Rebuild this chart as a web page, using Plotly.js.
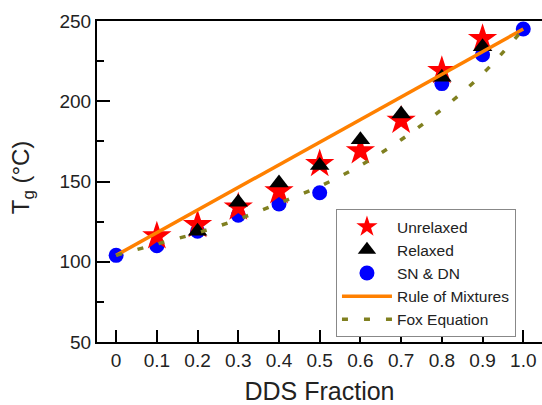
<!DOCTYPE html>
<html>
<head>
<meta charset="utf-8">
<script src="https://cdn.plot.ly/plotly-3.0.1.min.js"></script>
<style>html,body{margin:0;padding:0;background:#fff;}#chart{width:542px;height:405px;}</style>
</head>
<body>
<div id="chart"></div>
<script>
// DDS fraction positions
const ddsFraction = [0, 0.1, 0.2, 0.3, 0.4, 0.5, 0.6, 0.7, 0.8, 0.9, 1.0];
const xTickLabels = ["0", "0.1", "0.2", "0.3", "0.4", "0.5", "0.6", "0.7", "0.8", "0.9", "1.0"];
const yTickVals = [50, 100, 150, 200, 250];
const yMinorTickVals = [75, 125, 175, 225];

// Tg values (°C)
const unrelaxed = [null, 116, 123, 134, 144, 161, 169, 188, 219, 239, null];
const relaxed   = [null, null, 119, 137, 149, 160, 176, 192, 215, 234, null];
const snDn      = [104, 110, 119, 129, 136, 143, null, null, 211, 229, 245];

// Rule of mixtures (end points)
const romX = [0, 1.0];
const romY = [104, 245];

// Fox equation curve
const foxY = [104, 111, 118, 126.5, 136.5, 147, 160, 176, 195, 217, 245];

const FONT = "Liberation Sans, Arial, sans-serif";

const data = [
  {x: ddsFraction, y: snDn, name: "SN &amp; DN", type: "scatter", mode: "markers",
   marker: {symbol: "circle", size: 15, color: "#0000ff", line: {width: 0}}, legendrank: 3},
  {x: ddsFraction, y: unrelaxed, name: "Unrelaxed", type: "scatter", mode: "markers",
   marker: {symbol: "star", size: 22, color: "#ff0000", line: {width: 0}}, legendrank: 1},
  {x: ddsFraction, y: relaxed, name: "Relaxed", type: "scatter", mode: "markers",
   marker: {symbol: "triangle-up", size: 17, color: "#000000", line: {width: 0}}, legendrank: 2},
  {x: romX, y: romY, name: "Rule of Mixtures", type: "scatter", mode: "lines",
   line: {color: "#ff8000", width: 3.5}, legendrank: 4},
  {x: ddsFraction, y: foxY, name: "Fox Equation", type: "scatter", mode: "lines",
   line: {color: "#808020", width: 3.5, dash: "6px,16px", shape: "spline"}, legendrank: 5}
];

const layout = {
  width: 542, height: 405,
  margin: {l: 97, r: 0, t: 21, b: 63},
  paper_bgcolor: "#ffffff", plot_bgcolor: "#ffffff",
  font: {family: FONT, color: "#222222", size: 19},
  showlegend: true,
  legend: {
    x: 0.537, y: 0.414, xanchor: "left", yanchor: "top",
    bgcolor: "#ffffff", bordercolor: "#888888", borderwidth: 1,
    font: {family: FONT, size: 15.5, color: "#222222"},
    itemwidth: 50, tracegroupgap: 0
  },
  xaxis: {
    range: [-0.047, 1.046],
    tickmode: "array", tickvals: ddsFraction, ticktext: xTickLabels,
    ticks: "inside", ticklen: 12, tickwidth: 2, tickcolor: "#000",
    showline: true, linecolor: "#000", linewidth: 2, mirror: true,
    showgrid: false, zeroline: false,
    tickfont: {family: FONT, size: 19, color: "#222"},
    title: {text: "DDS Fraction", font: {family: FONT, size: 25, color: "#222"}, standoff: 13}
  },
  yaxis: {
    range: [50, 250],
    tickmode: "array", tickvals: yTickVals,
    ticksuffix: "\u00A0",
    ticks: "inside", ticklen: 13, tickwidth: 2, tickcolor: "#000",
    minor: {tickmode: "array", tickvals: yMinorTickVals, ticks: "inside", ticklen: 7, tickwidth: 2, tickcolor: "#000", showgrid: false},
    showline: true, linecolor: "#000", linewidth: 2, mirror: true,
    showgrid: false, zeroline: false,
    tickfont: {family: FONT, size: 19, color: "#222"}
  },
  annotations: [{
    text: "T<sub>g</sub> (°C)", xref: "paper", yref: "paper",
    x: -0.168, y: 0.514, xanchor: "center", yanchor: "middle",
    textangle: -90, showarrow: false,
    font: {family: FONT, size: 24, color: "#222"}
  }]
};

Plotly.newPlot("chart", data, layout, {displayModeBar: false, staticPlot: true});
</script>
</body>
</html>
